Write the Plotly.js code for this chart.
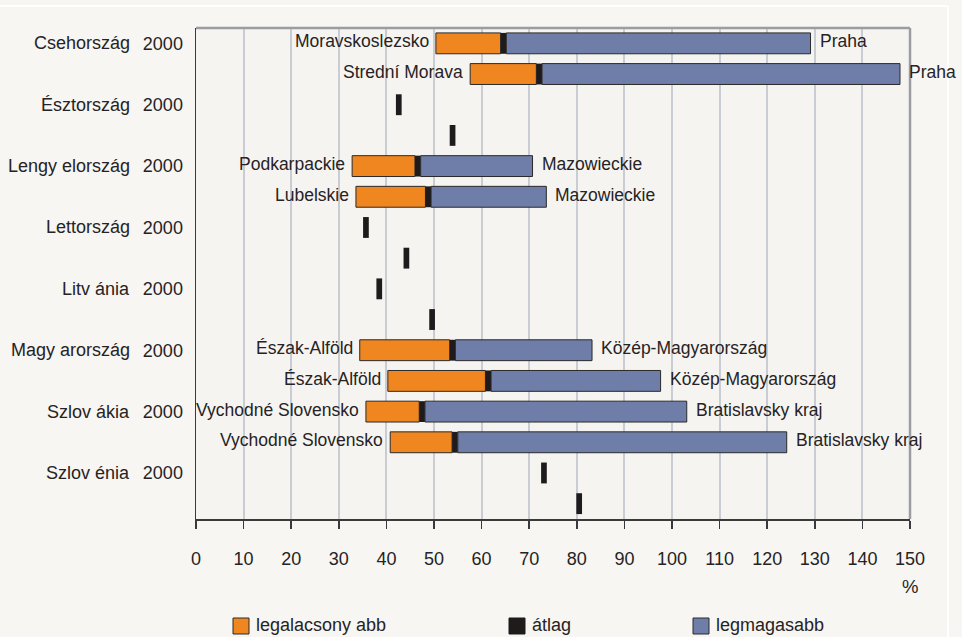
<!DOCTYPE html>
<html>
<head>
<meta charset="utf-8">
<script src="https://cdn.plot.ly/plotly-3.0.1.min.js"></script>
<style>html,body{margin:0;padding:0;background:#f7f6f3;}#chart{width:962px;height:637px;}</style>
</head>
<body>
<div id="chart"></div>
<script>
// ---- data ----
const countries = ['Csehország','Észtország','Lengy elország','Lettország','Litv ánia','Magy arország','Szlov ákia','Szlov énia'];
const yearLabels = ['2000',''];   // first row of each country labelled 2000, second row unlabelled
const minVal = [50.4, 57.6, null, null, 32.8, 33.6, null, null, null, null, 34.4, 40.3, 35.7, 40.8, null, null];
const avgVal = [64.6, 72.1, 42.6, 53.9, 46.6, 48.8, 35.7, 44.2, 38.5, 49.6, 53.9, 61.4, 47.5, 54.4, 73.1, 80.5];
const maxVal = [129.1, 147.9, null, null, 70.7, 73.6, null, null, null, null, 83.2, 97.6, 103.1, 124.1, null, null];
const minRegion = ['Moravskoslezsko','Strední Morava','','','Podkarpackie','Lubelskie','','','','','Észak-Alföld','Észak-Alföld','Vychodné Slovensko','Vychodné Slovensko','',''];
const maxRegion = ['Praha','Praha','','','Mazowieckie','Mazowieckie','','','','','Közép-Magyarország','Közép-Magyarország','Bratislavsky kraj','Bratislavsky kraj','',''];
const seriesNames = ['legalacsony abb','átlag','legmagasabb'];
const xTicks = [0,10,20,30,40,50,60,70,80,90,100,110,120,130,140,150];

// ---- build ----
const FONT = '"Liberation Sans",Arial,sans-serif';
const FS = 17.5;
const TXT = '#262324';
const rows = avgVal.map((_, i) => i);
const half = 0.6; // half width of the average marker
const W = 0.68;

const orange = {type:'bar', orientation:'h', name:seriesNames[0], y:[], x:[], base:[], width:W,
  marker:{color:'#f0861f', line:{color:'#2a2a2a', width:1}}, hoverinfo:'skip', showlegend:false};
const black = {type:'bar', orientation:'h', name:seriesNames[1], y:[], x:[], base:[], width:W,
  marker:{color:'#1f1b1c', line:{width:0}}, hoverinfo:'skip', showlegend:false};
const blue = {type:'bar', orientation:'h', name:seriesNames[2], y:[], x:[], base:[], width:W,
  marker:{color:'#6e7ea8', line:{color:'#2a2a2a', width:1}}, hoverinfo:'skip', showlegend:false};

rows.forEach(i => {
  black.y.push(i); black.base.push(avgVal[i]-half); black.x.push(2*half);
  if (minVal[i] != null) {
    orange.y.push(i); orange.base.push(minVal[i]); orange.x.push(avgVal[i]-half-minVal[i]);
    blue.y.push(i); blue.base.push(avgVal[i]+half); blue.x.push(maxVal[i]-avgVal[i]-half);
  }
});

const annotations = [];
rows.forEach(i => {
  if (minRegion[i]) annotations.push({x:minVal[i], y:i, xref:'x', yref:'y', text:minRegion[i], showarrow:false,
    xanchor:'right', yanchor:'middle', xshift:-5, yshift:2, font:{family:FONT, size:FS, color:TXT}});
  if (maxRegion[i]) annotations.push({x:maxVal[i], y:i, xref:'x', yref:'y', text:maxRegion[i], showarrow:false,
    xanchor:'left', yanchor:'middle', xshift:7, yshift:2, font:{family:FONT, size:FS, color:TXT}});
});
// country names (left column)
const L = 196, R = 910, T = 28, B = 519;
const px2x = p => (p - L) / (R - L);
const py2y = p => (B - p) / (B - T);
countries.forEach((c, k) => {
  annotations.push({x:px2x(132), y:2*k, xref:'paper', yref:'y', text:c, showarrow:false,
    xanchor:'right', yanchor:'middle', font:{family:FONT, size:FS+0.5, color:TXT}});
});
// % unit
annotations.push({x:150, y:py2y(586), xref:'x', yref:'paper', text:'%', showarrow:false,
  xanchor:'center', yanchor:'middle', font:{family:FONT, size:FS+1, color:TXT}});

// custom legend
const legendColors = ['#f0861f','#1f1b1c','#6e7ea8'];
const legendX = [233, 509, 693];
const shapes = [];
seriesNames.forEach((n, k) => {
  shapes.push({type:'rect', xref:'paper', yref:'paper', x0:px2x(legendX[k]), x1:px2x(legendX[k]+16),
    y0:py2y(634), y1:py2y(618), fillcolor:legendColors[k], line:{color: k===1 ? legendColors[k] : '#2a2a2a', width:1}});
  annotations.push({x:px2x(legendX[k]+21), y:py2y(625), xref:'paper', yref:'paper', text:n, showarrow:false,
    xanchor:'left', yanchor:'middle', font:{family:FONT, size:FS+0.5, color:TXT}});
});
// frame lines (plot top/right border, white outer frame)
shapes.push({type:'line', xref:'paper', yref:'paper', x0:0, x1:1, y0:1, y1:1, line:{color:'#9c9da2', width:2.5}});
shapes.push({type:'line', xref:'paper', yref:'paper', x0:1, x1:1, y0:0, y1:1, line:{color:'#9c9da2', width:2.5}});
shapes.push({type:'line', xref:'paper', yref:'paper', x0:px2x(0), x1:px2x(948), y0:py2y(6), y1:py2y(6), line:{color:'#ffffff', width:2}});
shapes.push({type:'line', xref:'paper', yref:'paper', x0:px2x(948), x1:px2x(948), y0:py2y(6), y1:py2y(637), line:{color:'#ffffff', width:2}});

const tickvals = [], ticktext = [];
rows.forEach(i => { tickvals.push(i); ticktext.push(yearLabels[i % 2]); });

const layout = {
  width:962, height:637,
  margin:{l:L, r:962-R, t:T, b:637-B, pad:0},
  paper_bgcolor:'#f7f6f3', plot_bgcolor:'#f6f4f1',
  barmode:'overlay', showlegend:false,
  font:{family:FONT, size:FS, color:TXT},
  xaxis:{range:[0,150], tickvals:xTicks, ticktext:xTicks.map(String), showgrid:true, gridcolor:'#c9ccd3', gridwidth:2,
    zeroline:false, showline:true, linecolor:'#3a3a3a', linewidth:1.5, ticks:'outside', ticklen:8, tickwidth:1.5,
    tickcolor:'#3a3a3a', ticklabelstandoff:15, tickfont:{family:FONT, size:FS+0.5, color:TXT}, fixedrange:true},
  yaxis:{range:[15.5,-0.5], tickvals:tickvals, ticktext:ticktext, showgrid:false, zeroline:false, showline:true,
    linecolor:'#3a3a3a', linewidth:1.5, ticks:'', ticklabelstandoff:8, tickfont:{family:FONT, size:FS+0.5, color:TXT}, fixedrange:true},
  annotations:annotations, shapes:shapes
};

Plotly.newPlot('chart', [orange, black, blue], layout, {displayModeBar:false, staticPlot:true});
</script>
</body>
</html>
